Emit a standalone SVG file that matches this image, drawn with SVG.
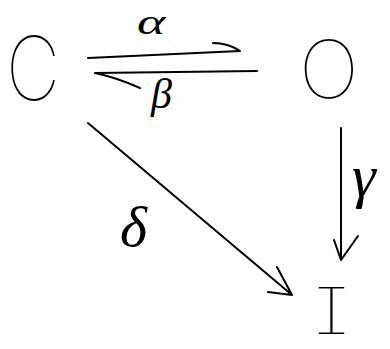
<svg xmlns="http://www.w3.org/2000/svg" width="390" height="349" viewBox="0 0 390 349">
<style>
.n{font-family:Inter,"Liberation Sans",sans-serif;font-weight:100;fill:#000}
.g{font-family:"Liberation Serif",serif;font-style:italic;fill:#000}
.e{fill:none;stroke:#000;stroke-width:2;stroke-linecap:round;stroke-linejoin:round}
</style>
<rect width="390" height="349" fill="#fff"/>
<g id="C"><text class="n" x="0" y="0" font-size="88" transform="translate(6 100) scale(0.85 1)">C</text></g>
<g id="O"><text class="n" x="299" y="98" font-size="80">O</text></g>
<g id="I"><text class="n" x="0" y="0" font-size="58" transform="translate(313 334) scale(1.7 1.1)" style="font-feature-settings:'cv08'">I</text></g>
<g id="connectors">
<path class="e" d="M88 58 L240 51 Q228 43 213 43"/>
<path class="e" d="M257 71 L95 73 Q118 78 140 88"/>
<path class="e" d="M88 123 L292 295 M277 267 L292 295 L268 292"/>
<path class="e" d="M341 128 L341 260 M334 240 L341 260 L358 236"/>
</g>
<g id="labels">
<text class="g" x="0" y="0" font-size="36" transform="translate(137 34) scale(1.5 1)">α</text>
<text class="g" x="151" y="108" font-size="42">β</text>
<text class="g" x="352" y="196" font-size="60">γ</text>
<text class="g" x="120" y="246" font-size="58">δ</text>
</g>
</svg>
